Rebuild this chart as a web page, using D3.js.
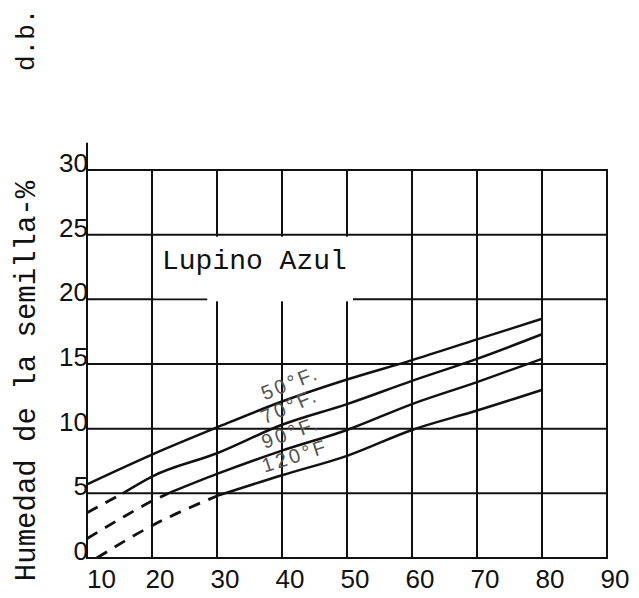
<!DOCTYPE html>
<html><head><meta charset="utf-8">
<script src="https://cdn.jsdelivr.net/npm/d3@7"></script>
<style>html,body{margin:0;padding:0;background:#fff;} svg{display:block;}</style>
</head><body>
<svg id="c" width="639" height="598"></svg>
<script>
// ---- data ----
const xTicks = [10, 20, 30, 40, 50, 60, 70, 80, 90];
const yTicks = [0, 5, 10, 15, 20, 25, 30];
const xTickLabels = ["10", "20", "30", "40", "50", "60", "70", "80", "90"];
const yTickLabels = ["0", "5", "10", "15", "20", "25", "30"];
const seriesNames = ["50°F.", "70°F.", "90°F.", "120°F"];
const x50 = [10, 20, 30, 40, 50, 60, 70, 80];
const y50 = [5.7, 8.0, 10.1, 12.1, 13.8, 15.3, 16.9, 18.5];
const x70 = [15.5, 20, 30, 40, 50, 60, 70, 80];
const y70 = [5.0, 6.3, 8.1, 10.3, 11.9, 13.7, 15.4, 17.3];
const x70d = [10, 15.5];
const y70d = [3.5, 5.0];
const x90 = [22.5, 30, 40, 50, 60, 70, 80];
const y90 = [5.0, 6.5, 8.3, 9.9, 11.9, 13.6, 15.4];
const x90d = [10, 15, 20, 22.5];
const y90d = [1.5, 3.0, 4.4, 5.0];
const x120 = [30, 40, 50, 60, 70, 80];
const y120 = [4.8, 6.4, 7.9, 9.9, 11.4, 13.0];
const x120d = [11.5, 20, 30];
const y120d = [0.0, 2.5, 4.8];
const yTitle = "Humedad de la semilla-%";
const cornerText = "d.b.";
const plotLabel = "Lupino Azul";

// ---- drawing ----
const svg = d3.select("#c");
const ink = "#111";
const x = d3.scaleLinear().domain([10, 90]).range([87, 607]);
const y = d3.scaleLinear().domain([0, 30]).range([558, 170]);

const grid = svg.append("g").attr("stroke", ink).attr("stroke-width", 2).attr("fill", "none");
grid.selectAll("line.v").data(xTicks).join("line")
  .attr("x1", d => x(d)).attr("x2", d => x(d))
  .attr("y1", y(0) + 1).attr("y2", (d, i) => i === 0 ? y(32.1) : y(30) - 1);
grid.selectAll("line.h").data(yTicks).join("line")
  .attr("y1", d => y(d)).attr("y2", d => y(d))
  .attr("x1", x(10) - 1).attr("x2", x(90) + 1);

// white box behind the species label
svg.append("rect").attr("fill", "#fff")
  .attr("x", x(20) + 2).attr("y", y(25) + 2)
  .attr("width", x(50) + 6 - (x(20) + 2)).attr("height", y(20) - 1 - (y(25) + 2));
svg.append("rect").attr("fill", "#fff")
  .attr("x", x(28.5)).attr("y", y(20) - 2)
  .attr("width", x(50) + 6 - x(28.5)).attr("height", 4);

// curves
const lineGen = d3.line().x(d => x(d[0])).y(d => y(d[1])).curve(d3.curveMonotoneX);
const zip = (a, b) => a.map((v, i) => [v, b[i]]);
const solids = [zip(x50, y50), zip(x70, y70), zip(x90, y90), zip(x120, y120)];
const dashes = [zip(x70d, y70d), zip(x90d, y90d), zip(x120d, y120d)];
svg.append("g").selectAll("path").data(solids).join("path")
  .attr("d", lineGen).attr("fill", "none").attr("stroke", ink).attr("stroke-width", 2.5);
svg.append("g").selectAll("path").data(dashes).join("path")
  .attr("d", lineGen).attr("fill", "none").attr("stroke", ink).attr("stroke-width", 2.8)
  .attr("stroke-dasharray", "12,9");

// curve labels
const lblX = 37.3;
solids.forEach((pts, i) => {
  const interp = d3.scaleLinear().domain(pts.map(p => p[0])).range(pts.map(p => p[1]));
  const px = x(lblX), py = y(interp(lblX)) - 8;
  const ang = Math.atan2(y(interp(40)) - y(interp(30)), x(40) - x(30)) * 180 / Math.PI;
  svg.append("text").attr("transform", `translate(${px},${py}) rotate(${ang})`)
    .attr("font-family", "Liberation Sans").attr("font-size", 20)
    .attr("letter-spacing", 3).attr("fill", "#555").text(seriesNames[i]);
});

// tick labels
svg.append("g").selectAll("text").data(xTicks).join("text")
  .attr("x", (d, i) => i === 0 ? x(d) : x(d) + 8).attr("y", 588)
  .attr("text-anchor", (d, i) => i === 0 ? "start" : "middle")
  .attr("font-family", "Liberation Sans").attr("font-size", 26).attr("fill", ink)
  .text((d, i) => xTickLabels[i]);
svg.append("g").selectAll("text").data(yTicks).join("text")
  .attr("x", x(10) + 1).attr("y", d => y(d) + 2)
  .attr("text-anchor", "end")
  .attr("font-family", "Liberation Sans").attr("font-size", 26).attr("fill", ink)
  .text((d, i) => yTickLabels[i]);

// texts
svg.append("text").attr("x", 162).attr("y", 269)
  .attr("font-family", "Liberation Mono").attr("font-size", 28).attr("fill", ink)
  .text(plotLabel);
svg.append("text").attr("transform", "translate(35,381) rotate(-90)")
  .attr("text-anchor", "middle")
  .attr("font-family", "Liberation Mono").attr("font-size", 29).attr("fill", ink)
  .text(yTitle);
svg.append("text").attr("transform", "translate(34,71) rotate(-90)")
  .attr("font-family", "Liberation Mono").attr("font-size", 26).attr("fill", ink)
  .text(cornerText);
</script>
</body></html>
